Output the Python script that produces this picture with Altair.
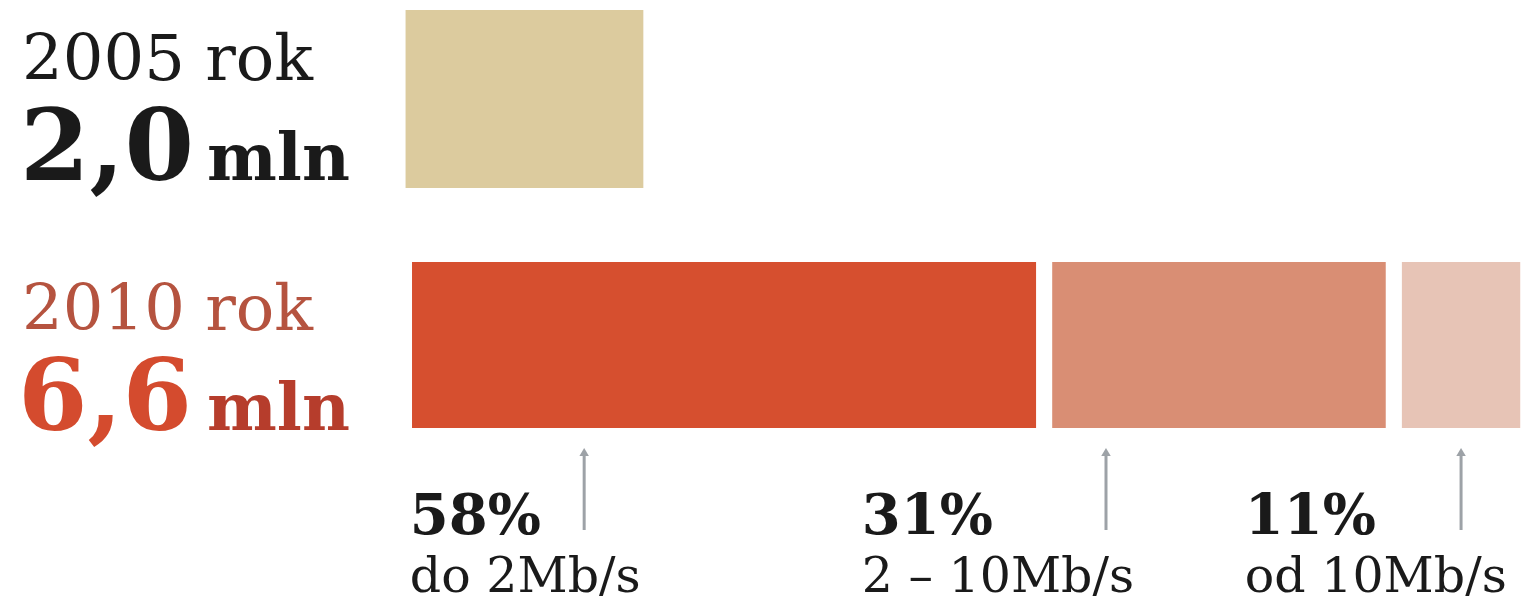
import altair as alt
import pandas as pd

# ---- data ----
years = ["2005", "2010"]
year_labels = ["2005 rok", "2010 rok"]
total_values = ["2,0", "6,6"]
segment_pct = [58, 31, 11]
segment_names = ["58%", "31%", "11%"]
segment_labels = ["do 2Mb/s", "2 – 10Mb/s", "od 10Mb/s"]
segment_colors = ["#d64f2f", "#d98e74", "#e7c4b6"]
box_2005_width = 21.5          # width of the 2005 box, in the same %-units
gap_units = 1.5                # white gap between 2010 segments
arrow_pos = [16, 64.5, 97.5]   # arrow positions (%-units)
label_pos = [-0.2, 41.8, 77.4] # left edge of the percentage labels

# ---- tables ----
starts, ends = [], []
cur = 0.0
for p in segment_pct:
    starts.append(cur)
    ends.append(cur + p)
    cur += p + gap_units
seg = pd.DataFrame({
    "row": ["2010"] * 3,
    "name": segment_labels,
    "start": starts,
    "end": ends,
    "pct": segment_names,
    "arrow": arrow_pos,
    "lab": label_pos,
})
box = pd.DataFrame({"row": ["2005"], "start": [-0.6], "end": [box_2005_width]})
rows = pd.DataFrame({"row": years, "label": year_labels, "value": total_values})

xs = alt.Scale(domain=[-37.55, 103.35], nice=False, zero=False)
ys = alt.Scale(domain=years, range=[0, 428], paddingInner=0.5, paddingOuter=0.12)
X = lambda f: alt.X(f, scale=xs, axis=None)
Y = alt.Y("row:N", scale=ys, axis=None)

box_layer = alt.Chart(box).mark_bar(height=178, color="#dccb9e").encode(
    x=X("start:Q"), x2="end:Q", y=Y)

seg_layer = alt.Chart(seg).mark_bar(height=166).encode(
    x=X("start:Q"), x2="end:Q", y=Y,
    color=alt.Color("name:N", scale=alt.Scale(domain=segment_labels, range=segment_colors), legend=None))

serif = "DejaVu Serif"

def row_text(row, field, xpix, dy, size, weight, color):
    return alt.Chart(rows[rows.row == row]).mark_text(
        align="left", baseline="alphabetic", font=serif, fontSize=size,
        fontWeight=weight, color=color, dy=dy).encode(
        x=alt.value(xpix), y=Y, text=f"{field}:N")

mln = pd.DataFrame({"row": years, "t": ["mln", "mln"]})

def mln_text(row, dy, color):
    return alt.Chart(mln[mln.row == row]).mark_text(
        align="left", baseline="alphabetic", font=serif, fontSize=66,
        fontWeight="bold", color=color, dy=dy).encode(
        x=alt.value(199), y=Y, text="t:N")

t1 = row_text("2005", "label", 14, -19, 64, "normal", "#1a1a1a")
t2 = row_text("2005", "value", 12, 81, 100, "bold", "#1a1a1a")
t3 = mln_text("2005", 81, "#1a1a1a")
t4 = row_text("2010", "label", 14, -15, 64, "normal", "#b5533f")
t5 = row_text("2010", "value", 10, 85, 100, "bold", "#d44b2e")
t6 = mln_text("2010", 85, "#b63d2c")

arrows = alt.Chart(seg).mark_rule(color="#9da2a7", strokeWidth=3).encode(
    x=X("arrow:Q"), y=alt.value(444), y2=alt.value(522))
heads = alt.Chart(seg).mark_point(shape="triangle-up", filled=True, size=90,
                                  color="#9da2a7", opacity=1).encode(
    x=X("arrow:Q"), y=alt.value(444))

pct_text = alt.Chart(seg).mark_text(
    align="left", baseline="alphabetic", font=serif, fontSize=56,
    fontWeight="bold", color="#1a1a1a", dy=189).encode(
    x=X("lab:Q"), y=Y, text="pct:N")
name_text = alt.Chart(seg).mark_text(
    align="left", baseline="alphabetic", font=serif, fontSize=49,
    color="#1a1a1a", dy=247).encode(
    x=X("lab:Q"), y=Y, text="name:N")

chart = alt.layer(
    box_layer, seg_layer, arrows, heads, t1, t2, t3, t4, t5, t6, pct_text, name_text
).properties(
    width=1516, height=595, padding=0,
    autosize=alt.AutoSizeParams(type="none"),
).configure(background="white").configure_view(stroke=None)

chart.save("out.html", embed_options={"renderer": "svg", "actions": False})
